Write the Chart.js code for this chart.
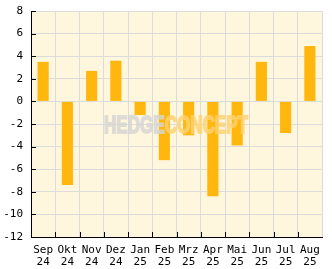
<!DOCTYPE html>
<html>
<head>
<meta charset="utf-8">
<script src="https://cdn.jsdelivr.net/npm/chart.js@4.4.1/dist/chart.umd.min.js"></script>
<style>
  html, body { margin: 0; padding: 0; background: #fff; }
  #wrap { width: 332px; height: 269px; }
</style>
</head>
<body>
<div id="wrap"><canvas id="perfChart"></canvas></div>
<script>
// Monatsperformance in %
const monate = ['Sep', 'Okt', 'Nov', 'Dez', 'Jan', 'Feb', 'Mrz', 'Apr', 'Mai', 'Jun', 'Jul', 'Aug'];
const jahre = ['24', '24', '24', '24', '25', '25', '25', '25', '25', '25', '25', '25'];
const werte = [3.5, -7.4, 2.7, 3.6, -1.2, -5.2, -3.0, -8.4, -3.9, 3.5, -2.8, 4.9];
const yMin = -12;
const yMax = 8;

const labels = monate.map((m, i) => [m, jahre[i]]);

const GRID = '#dcdcdc';
const FONT = { family: '"DejaVu Sans Mono", monospace', size: 11, lineHeight: 1.1 };

// Hintergrund der Zeichenfläche
const hintergrund = {
    id: 'hintergrund',
    beforeDraw(chart) {
        const { ctx, chartArea: a } = chart;
        ctx.save();
        ctx.fillStyle = '#FFF6DE';
        ctx.fillRect(a.left, a.top, a.right - a.left, a.bottom - a.top);
        ctx.restore();
    }
};

// Wasserzeichen über den Balken (erst deckend zeichnen, dann transparent einblenden)
const wasserzeichen = {
    id: 'wasserzeichen',
    afterDatasetsDraw(chart) {
        const { ctx, chartArea: a } = chart;
        const t1 = 'HEDGE', t2 = 'CONCEPT';
        const off = document.createElement('canvas');
        off.width = 160; off.height = 30;
        const o = off.getContext('2d');
        o.font = 'bold 24px "Liberation Sans", Arial, sans-serif';
        const w1 = o.measureText(t1).width;
        const w2 = o.measureText(t2).width;
        const sx = 144 / (w1 + w2);
        o.translate(2, 25);
        o.scale(sx, 1);
        o.lineWidth = 1.8;
        o.lineJoin = 'miter';
        o.fillStyle = o.strokeStyle = 'rgb(214, 214, 211)';
        o.fillText(t1, 0, 0);
        o.strokeText(t1, 0, 0);
        o.fillStyle = o.strokeStyle = 'rgb(255, 210, 114)';
        o.fillText(t2, w1, 0);
        o.strokeText(t2, w1, 0);
        const cx = (a.left + a.right) / 2;
        const cy = (a.top + a.bottom) / 2;
        ctx.save();
        ctx.globalAlpha = 0.82;
        ctx.drawImage(off, Math.round(cx - 75), Math.round(cy + 8.5 - 25));
        ctx.restore();
    }
};

// Skalenstriche nach innen
const innenTicks = {
    id: 'innenTicks',
    afterDraw(chart) {
        const { ctx, chartArea: a, scales } = chart;
        ctx.save();
        ctx.strokeStyle = '#000';
        ctx.lineWidth = 1;
        ctx.beginPath();
        scales.y.ticks.forEach((t, i) => {
            const y = Math.round(scales.y.getPixelForTick(i)) + 0.5;
            ctx.moveTo(a.left, y);
            ctx.lineTo(a.left + 5, y);
        });
        const n = scales.x.ticks.length;
        const step = (a.right - a.left) / n;
        for (let i = 1; i < n; i++) {
            const x = Math.round(a.left + step * i) + 0.5;
            ctx.moveTo(x, a.bottom);
            ctx.lineTo(x, a.bottom - 5);
        }
        ctx.stroke();
        ctx.restore();
    }
};

new Chart(document.getElementById('perfChart'), {
    type: 'bar',
    data: {
        labels: labels,
        datasets: [{
            data: werte,
            backgroundColor: '#FFB60D',
            borderWidth: 0,
            categoryPercentage: 1,
            barPercentage: 0.46
        }]
    },
    options: {
        responsive: true,
        maintainAspectRatio: false,
        animation: false,
        layout: { padding: { top: 11, right: 10, left: 0, bottom: 0 } },
        plugins: {
            legend: { display: false },
            tooltip: { enabled: false }
        },
        scales: {
            x: {
                offset: true,
                grid: { color: GRID, drawTicks: false, offset: true },
                border: { color: '#000', width: 1 },
                ticks: {
                    color: '#000',
                    font: FONT,
                    padding: 7,
                    maxRotation: 0,
                    autoSkip: false
                },
                afterFit(s) { s.height = 32; s.paddingLeft = 0; s.paddingRight = 0; }
            },
            y: {
                min: yMin,
                max: yMax,
                grid: {
                    color: c => (c.tick && c.tick.value % 2 === 0) ? GRID : 'rgba(0,0,0,0)',
                    drawTicks: false
                },
                border: { color: '#000', width: 1 },
                ticks: {
                    stepSize: 1,
                    color: '#000',
                    font: FONT,
                    padding: 8,
                    callback: v => (v % 2 === 0 ? String(v) : '')
                },
                afterFit(s) { s.width = 31; s.paddingTop = 0; s.paddingBottom = 0; }
            }
        }
    },
    plugins: [hintergrund, wasserzeichen, innenTicks]
});
</script>
</body>
</html>
